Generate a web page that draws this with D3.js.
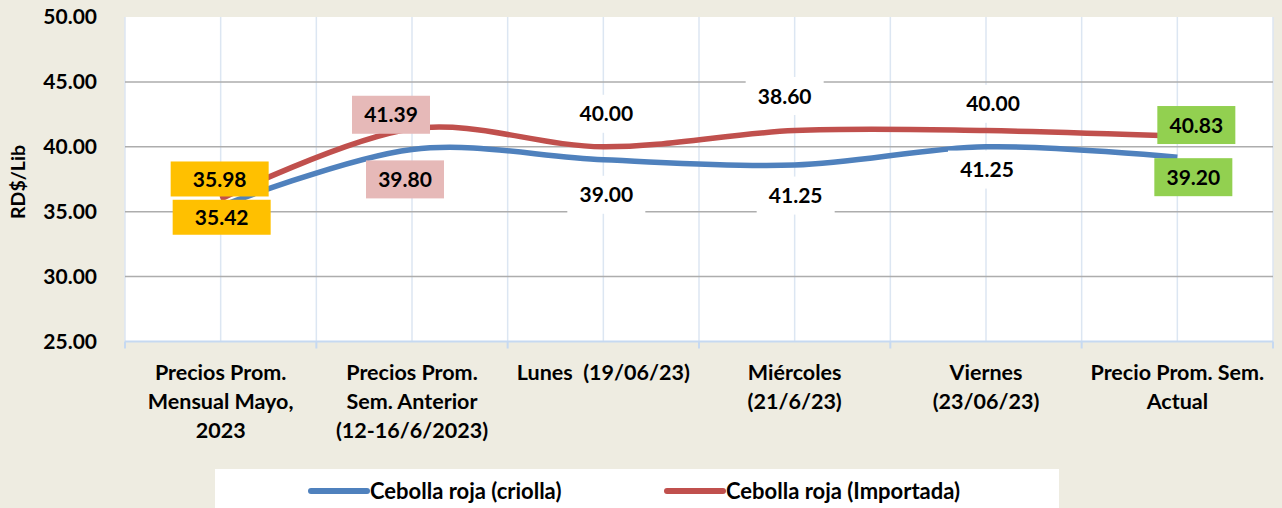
<!DOCTYPE html>
<html><head><meta charset="utf-8">
<script src="https://cdn.jsdelivr.net/npm/d3@7"></script>
<style>
body{margin:0;background:#EEECE1;}
svg{display:block;font-family:Lato, "Noto Sans", sans-serif;font-weight:bold;}
</style>
</head><body><svg id="c" width="1282" height="508"></svg>
<script>
// ---- data ----
const categories = [
  ["Precios Prom.","Mensual Mayo,","2023"],
  ["Precios Prom.","Sem. Anterior","(12-16/6/2023)"],
  ["Lunes  (19/06/23)"],
  ["Miércoles","(21/6/23)"],
  ["Viernes","(23/06/23)"],
  ["Precio Prom. Sem.","Actual"]
];
const criolla   = [35.42, 39.80, 39.00, 38.60, 40.00, 39.20];
const importada = [35.98, 41.39, 40.00, 41.25, 41.25, 40.83];
const yTicks = [25, 30, 35, 40, 45, 50];
const seriesNames = ["Cebolla roja (criolla)", "Cebolla roja (Importada)"];
const yTitle = "RD$/Lib";

// ---- layout / style (not data) ----
const W = 1282, H = 508;
const plot = {l:125, r:1273, t:17, b:341.5};
const colors = ["#4F81BD", "#C0504D"];
const labelFill = ["#FFC000", "#E6B9B8", "#FFFFFF", "#FFFFFF", "#FFFFFF", "#92D050"];
const labelW = [98, 78, 78, 78, 78, 78];
const labelH = [35, 38, 38, 38, 38, 38];
const offCriolla   = [[1,11],[-7,30],[3,35],[-10,-69],[7,-43],[16,20]];
const offImportada = [[-1,-20],[-21,-14],[3,-33],[1,65],[1,39],[19,-11]];

const svg = d3.select("#c");
svg.append("rect").attr("width",W).attr("height",H).attr("fill","#EEECE1");
svg.append("rect").attr("x",plot.l).attr("y",plot.t).attr("width",plot.r-plot.l).attr("height",plot.b-plot.t).attr("fill","#fff");

const x = d3.scaleBand().domain(d3.range(categories.length)).range([plot.l, plot.r]);
const y = d3.scaleLinear().domain([25,50]).range([plot.b, plot.t]);
const cx = i => x(i) + x.bandwidth()/2;

// vertical gridlines at boundaries and centers
const vlines = [];
categories.forEach((c,i)=>{ vlines.push(x(i)); vlines.push(cx(i)); });
vlines.push(plot.r);
svg.append("g").selectAll("line").data(vlines).join("line")
  .attr("x1",d=>d).attr("x2",d=>d).attr("y1",plot.t).attr("y2",plot.b)
  .attr("stroke","#DCE6F2").attr("stroke-width",1.5);

// horizontal gridlines
svg.append("g").selectAll("line").data(yTicks.filter(t=>t>25 && t<50)).join("line")
  .attr("x1",plot.l).attr("x2",plot.r).attr("y1",d=>y(d)).attr("y2",d=>y(d))
  .attr("stroke","#ADADAD").attr("stroke-width",1.5);

// bottom axis line + ticks
svg.append("line").attr("x1",plot.l).attr("x2",plot.r).attr("y1",plot.b).attr("y2",plot.b)
  .attr("stroke","#C6D9F1").attr("stroke-width",2);
const bTicks = categories.map((c,i)=>x(i)).concat([plot.r]);
svg.append("g").selectAll("line").data(bTicks).join("line")
  .attr("x1",d=>d).attr("x2",d=>d).attr("y1",plot.b).attr("y2",plot.b+7)
  .attr("stroke","#C6D9F1").attr("stroke-width",2);

// y axis
const yAxis = d3.axisLeft(y).tickValues(yTicks).tickFormat(d3.format(".2f")).tickSize(0).tickPadding(28);
const ga = svg.append("g").attr("transform",`translate(${plot.l},0)`).call(yAxis);
ga.select(".domain").remove();
ga.selectAll("text").attr("font-family","Lato, sans-serif").attr("font-weight","bold")
  .attr("font-size",21).attr("fill","#000");

// y title
svg.append("text").attr("transform",`translate(25,182) rotate(-90)`)
  .attr("text-anchor","middle").attr("font-size",19.5).attr("fill","#000").text(yTitle);

// category labels
categories.forEach((lines,i)=>{
  const t = svg.append("text").attr("text-anchor","middle").attr("font-size",21.5)
    .attr("fill","#000").style("white-space","pre");
  lines.forEach((ln,k)=>{
    t.append("tspan").attr("x",cx(i)).attr("y",380 + k*29).text(ln);
  });
});

// lines
const line = d3.line().x((d,i)=>cx(i)).y(d=>y(d)).curve(d3.curveCardinal.tension(0));
[criolla, importada].forEach((s,k)=>{
  svg.append("path").datum(s).attr("d",line).attr("fill","none")
    .attr("stroke",colors[k]).attr("stroke-width",5.5).attr("stroke-linecap","butt");
});

// data labels
function labels(s, offs){
  s.forEach((v,i)=>{
    const px = cx(i) + offs[i][0], py = y(v) + offs[i][1];
    svg.append("rect").attr("x",px-labelW[i]/2).attr("y",py-labelH[i]/2)
      .attr("width",labelW[i]).attr("height",labelH[i]).attr("fill",labelFill[i]);
    svg.append("text").attr("x",px).attr("y",py).attr("dy","0.36em")
      .attr("text-anchor","middle").attr("font-size",21).attr("fill","#000")
      .text(d3.format(".2f")(v));
  });
}
labels(criolla, offCriolla);
labels(importada, offImportada);

// legend
svg.append("rect").attr("x",215).attr("y",469).attr("width",844).attr("height",40).attr("fill","#fff");
const legX = [311, 667];
seriesNames.forEach((n,k)=>{
  svg.append("line").attr("x1",legX[k]).attr("x2",legX[k]+56).attr("y1",491).attr("y2",491)
    .attr("stroke",colors[k]).attr("stroke-width",6).attr("stroke-linecap","round");
  svg.append("text").attr("x",legX[k]+59).attr("y",491).attr("dy","0.36em")
    .attr("font-size",22).attr("fill","#000").text(n);
});
</script></body></html>
